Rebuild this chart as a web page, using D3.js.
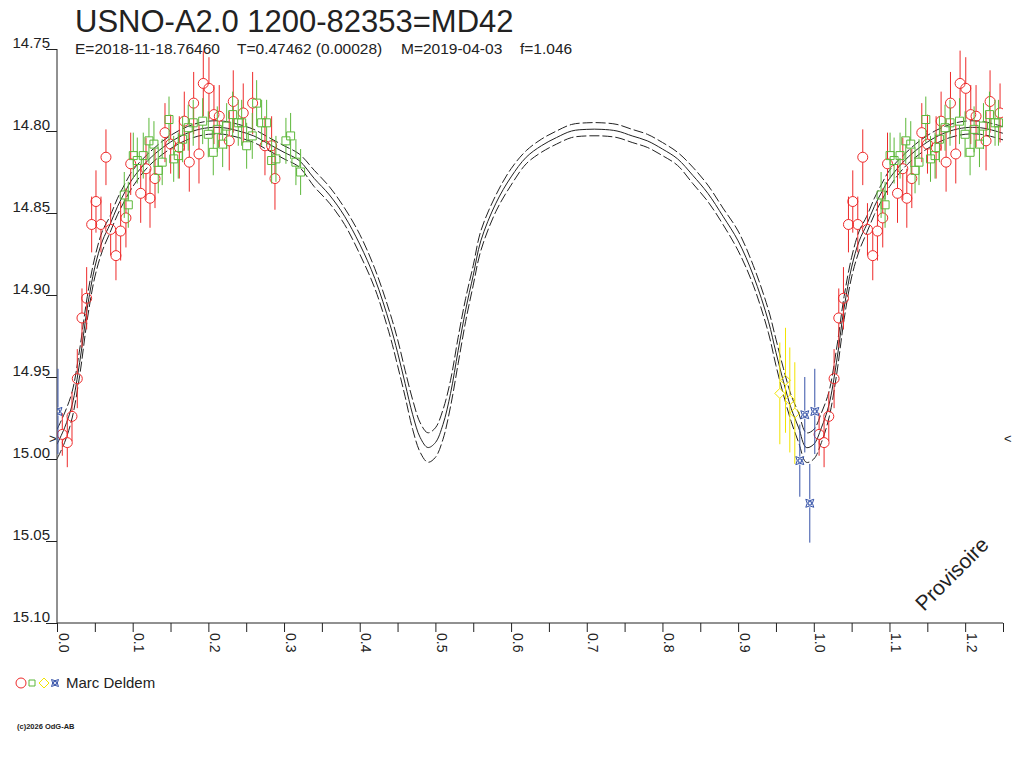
<!DOCTYPE html>
<html>
<head>
<meta charset="utf-8">
<script src="https://cdn.jsdelivr.net/npm/d3@7"></script>
<style>
  body { margin: 0; background: #fff; }
  text { font-family: "Liberation Sans", Arial, sans-serif; fill: #222; }
</style>
</head>
<body>
<div id="chart"></div>
<script>
const [width, height] = [1024, 768];

// model light curve, phase 0..1 (middle, bright envelope, faint envelope)
const curvePhase = [0.00,0.01,0.02,0.03,0.04,0.05,0.06,0.07,0.08,0.09,0.10,
  0.12,0.14,0.16,0.18,0.20,0.22,0.24,0.26,0.28,0.30,0.32,0.34,0.36,0.38,0.40,0.42,0.44,
  0.45,0.46,0.47,0.48,0.49,0.50,0.51,0.52,0.53,0.54,0.55,0.56,
  0.58,0.60,0.62,0.64,0.66,0.68,0.70,0.72,0.74,0.76,0.78,0.80,0.82,0.84,0.86,0.88,0.90,0.92,0.94,
  0.95,0.96,0.97,0.98,0.99];
const curveMid = [14.991,14.981,14.967,14.941,14.908,14.883,14.867,14.857,14.846,14.837,14.829,
  14.818,14.810,14.804,14.800,14.798,14.798,14.800,14.803,14.808,14.813,14.818,14.829,14.839,14.852,14.869,14.890,14.918,
  14.935,14.954,14.973,14.987,14.993,14.990,14.979,14.960,14.934,14.909,14.888,14.867,
  14.844,14.828,14.816,14.809,14.804,14.800,14.799,14.799,14.800,14.803,14.806,14.811,14.817,14.827,14.838,14.852,14.867,14.888,14.916,
  14.935,14.953,14.969,14.981,14.993];
const curveUp = [14.982,14.972,14.959,14.933,14.901,14.877,14.861,14.852,14.841,14.832,14.824,
  14.814,14.806,14.800,14.796,14.794,14.794,14.796,14.799,14.804,14.809,14.814,14.824,14.834,14.847,14.863,14.884,14.911,
  14.927,14.946,14.964,14.978,14.984,14.981,14.970,14.952,14.926,14.902,14.882,14.861,
  14.839,14.823,14.812,14.805,14.800,14.796,14.795,14.795,14.796,14.799,14.802,14.807,14.813,14.822,14.833,14.847,14.861,14.882,14.909,
  14.927,14.945,14.961,14.972,14.984];
const curveLow = [15.000,14.990,14.975,14.949,14.915,14.889,14.873,14.862,14.851,14.842,14.834,
  14.822,14.814,14.808,14.804,14.802,14.802,14.804,14.807,14.812,14.817,14.822,14.834,14.844,14.857,14.875,14.896,14.925,
  14.943,14.962,14.982,14.996,15.002,14.999,14.988,14.968,14.942,14.916,14.894,14.873,
  14.849,14.833,14.820,14.813,14.808,14.804,14.803,14.803,14.804,14.807,14.810,14.815,14.821,14.832,14.843,14.857,14.873,14.894,14.923,
  14.943,14.961,14.977,14.990,15.002];

// observations (phase, magnitude, error)
const redPhase = [0.0070,0.0136,0.0198,0.0268,0.0330,0.0392,0.0458,0.0581,0.0515,0.0647,0.0709,0.0779,0.0841,
  0.0911,0.0974,0.1106,0.1229,0.1176,0.1295,0.1427,0.1502,0.1616,0.1682,0.1748,0.1806,0.1876,0.1933,0.2008,
  0.2074,0.2144,0.2276,0.2329,0.2461,0.2585,0.2748,0.2836,0.2880];
const redMag = [14.985,14.990,14.974,14.951,14.914,14.902,14.857,14.857,14.843,14.816,14.860,14.876,14.861,
  14.853,14.820,14.838,14.841,14.823,14.829,14.801,14.808,14.810,14.794,14.819,14.783,14.814,14.771,14.774,
  14.790,14.791,14.806,14.782,14.789,14.783,14.809,14.809,14.829];
const redErr = [0.013,0.015,0.015,0.018,0.018,0.019,0.017,0.017,0.019,0.017,0.016,0.015,0.018,
  0.018,0.019,0.018,0.018,0.019,0.018,0.018,0.018,0.019,0.018,0.018,0.019,0.018,0.020,0.019,
  0.018,0.019,0.018,0.019,0.018,0.019,0.018,0.018,0.019];

const greenPhase = [0.0889,0.0942,0.1008,0.1061,0.1140,0.1215,0.1281,0.1338,0.1390,0.1480,0.1542,0.1602,
  0.1660,0.1734,0.1800,0.1925,0.1999,0.2065,0.2118,0.2189,0.2242,0.2321,0.2395,0.2440,0.2506,0.2580,
  0.2638,0.2704,0.2770,0.2836,0.2893,0.3025,0.3087,0.3157,0.3219];
const greenMag = [14.839,14.845,14.815,14.818,14.815,14.806,14.808,14.824,14.819,14.793,14.817,14.815,
  14.805,14.798,14.795,14.794,14.802,14.813,14.799,14.808,14.797,14.790,14.795,14.795,14.809,14.803,
  14.783,14.795,14.795,14.818,14.817,14.806,14.803,14.819,14.825];
const greenErr = [0.014,0.014,0.014,0.014,0.014,0.014,0.014,0.014,0.014,0.014,0.014,0.014,
  0.014,0.014,0.014,0.014,0.014,0.014,0.014,0.014,0.014,0.014,0.014,0.014,0.014,0.014,
  0.014,0.014,0.014,0.014,0.014,0.014,0.014,0.014,0.014];

const yellowPhase = [0.9551,0.9626,0.9683,0.9749];
const yellowMag = [14.960,14.952,14.964,14.972];
const yellowErr = [0.031,0.032,0.032,0.031];

const bluePhase = [0.9815,0.9881,0.9947,0.0013];
const blueMag = [15.001,14.973,15.027,14.971];
const blueErr = [0.022,0.023,0.024,0.026];

const yTicks = [14.75,14.80,14.85,14.90,14.95,15.00,15.05,15.10];
const xTicks = [0.0,0.1,0.2,0.3,0.4,0.5,0.6,0.7,0.8,0.9,1.0,1.1,1.2];
const xMinorTicks = [0.05,0.15,0.25,0.35,0.45,0.55,0.65,0.75,0.85,0.95,1.05,1.15,1.25];
const minLevel = 14.988;

const title = "USNO-A2.0 1200-82353=MD42";
const subtitle = ["E=2018-11-18.76460", "T=0.47462 (0.00028)", "M=2019-04-03", "f=1.046"];
const observer = "Marc Deldem";

const margin = {top: 49, right: 21, bottom: 145, left: 57};

const svg = d3.select("#chart")
  .append("svg")
  .attr("width", width)
  .attr("height", height);

const x = d3.scaleLinear().domain([0, 1.25]).range([margin.left, width - margin.right]);
const y = d3.scaleLinear().domain([14.75, 15.10]).range([margin.top, height - margin.bottom]);

// title block
svg.append("text").attr("x", 75).attr("y", 32)
  .style("font-size", "31px").text(title);
const subX = [75, 237, 401, 520];
subtitle.forEach((s, i) => {
  svg.append("text").attr("x", subX[i]).attr("y", 54)
    .style("font-size", "15.5px").text(s);
});

// axes
const yAxis = d3.axisLeft(y).tickValues(yTicks).tickSize(11).tickFormat(d3.format(".2f"));
const gy = svg.append("g").attr("transform", `translate(${x(0)},0)`).call(yAxis);
gy.select(".domain").attr("d", `M0,${y(14.75)}V${y(15.10)}`).attr("stroke", "#222");
gy.selectAll(".tick line").attr("stroke", "#222");
gy.selectAll(".tick text")
  .attr("x", -7).attr("dy", "-2px")
  .style("font-size", "15px").style("font-family", "'Liberation Sans', Arial, sans-serif")
  .attr("fill", "#222");

const xAxis = d3.axisBottom(x).tickValues(xTicks.concat(xMinorTicks)).tickSize(9)
  .tickFormat(d => xTicks.includes(d) ? d3.format(".1f")(d) : "");
const gx = svg.append("g").attr("transform", `translate(0,${y(15.10)})`).call(xAxis);
gx.select(".domain").attr("d", `M${x(0)},0H${x(1.25)}`).attr("stroke", "#222");
gx.selectAll(".tick line").attr("stroke", "#222");
gx.selectAll(".tick text")
  .attr("transform", "rotate(90)")
  .attr("x", 10).attr("y", -1).attr("dy", 0)
  .attr("text-anchor", "start")
  .style("font-size", "14px").style("font-family", "'Liberation Sans', Arial, sans-serif")
  .attr("fill", "#222");

// plot area clip
svg.append("clipPath").attr("id", "plot")
  .append("rect").attr("x", x(0)).attr("y", 0)
  .attr("width", x(1.25) - x(0)).attr("height", y(15.10));
const plot = svg.append("g").attr("clip-path", "url(#plot)");

// curves, wrapped past phase 1
function wrapped(mags) {
  const pts = curvePhase.map((p, i) => [p, mags[i]]);
  curvePhase.forEach((p, i) => { if (p <= 0.26) pts.push([p + 1, mags[i]]); });
  return pts;
}
const line = d3.line().x(d => x(d[0])).y(d => y(d[1])).curve(d3.curveCatmullRom);
[[curveUp, "10,3"], [curveMid, null], [curveLow, "10,3"]].forEach(([mags, dash]) => {
  plot.append("path")
    .attr("d", line(wrapped(mags)))
    .attr("fill", "none")
    .attr("stroke", "#222")
    .attr("stroke-width", 1)
    .attr("stroke-dasharray", dash);
});

// marker shapes
const shapes = {
  square: s => `M${-s},${-s}H${s}V${s}H${-s}Z`,
  diamond: s => `M0,${-s}L${s},0L0,${s}L${-s},0Z`,
  star: s => `M${-s},${-s}Q0,${-s * 0.3} ${s},${-s}Q${s * 0.3},0 ${s},${s}Q0,${s * 0.3} ${-s},${s}Q${-s * 0.3},0 ${-s},${-s}Z` +
             `M${-s * 0.4},${-s * 0.4}H${s * 0.4}V${s * 0.4}H${-s * 0.4}Z`
};

const series = [
  {phase: redPhase, mag: redMag, err: redErr, color: "#ee2a2a", shape: "circle", size: 5},
  {phase: greenPhase, mag: greenMag, err: greenErr, color: "#5cb83a", shape: "square", size: 4},
  {phase: yellowPhase, mag: yellowMag, err: yellowErr, color: "#f2e400", shape: "diamond", size: 5},
  {phase: bluePhase, mag: blueMag, err: blueErr, color: "#3552a8", shape: "star", size: 4}
];

series.forEach(s => {
  const pts = [];
  s.phase.forEach((p, i) => {
    pts.push({p: p, m: s.mag[i], e: s.err[i]});
    if (p + 1 <= 1.25) pts.push({p: p + 1, m: s.mag[i], e: s.err[i]});
  });
  const g = plot.append("g");
  pts.forEach(d => {
    const cx = x(d.p), cy = y(d.m);
    g.append("line").attr("x1", cx).attr("x2", cx)
      .attr("y1", y(d.m - d.e)).attr("y2", cy - s.size)
      .attr("stroke", s.color);
    g.append("line").attr("x1", cx).attr("x2", cx)
      .attr("y1", cy + s.size).attr("y2", y(d.m + d.e))
      .attr("stroke", s.color);
    if (s.shape === "circle") {
      g.append("circle").attr("cx", cx).attr("cy", cy).attr("r", s.size)
        .attr("fill", "none").attr("stroke", s.color);
    } else {
      g.append("path").attr("d", shapes[s.shape](s.size))
        .attr("transform", `translate(${cx},${cy})`)
        .attr("fill", "none").attr("stroke", s.color);
    }
  });
});

// minimum level marks
svg.append("text").attr("x", x(0) - 8).attr("y", y(minLevel) + 4)
  .style("font-size", "13px").text(">");
svg.append("text").attr("x", x(1.25) + 1).attr("y", y(minLevel) + 4)
  .style("font-size", "13px").text("<");

// watermark
svg.append("text")
  .attr("transform", "translate(924,612) rotate(-45)")
  .style("font-size", "21px").text("Provisoire");

// legend
const lg = svg.append("g").attr("transform", "translate(0,683)");
lg.append("circle").attr("cx", 21).attr("cy", 0).attr("r", 5)
  .attr("fill", "none").attr("stroke", series[0].color);
lg.append("path").attr("d", shapes.square(3)).attr("transform", "translate(32,0)")
  .attr("fill", "none").attr("stroke", series[1].color);
lg.append("path").attr("d", shapes.diamond(5)).attr("transform", "translate(44,0)")
  .attr("fill", "none").attr("stroke", series[2].color);
lg.append("path").attr("d", shapes.star(3.5)).attr("transform", "translate(55,0)")
  .attr("fill", "none").attr("stroke", series[3].color);
lg.append("text").attr("x", 66).attr("y", 5).style("font-size", "15px").text(observer);

svg.append("text").attr("x", 17).attr("y", 729)
  .style("font-size", "7.5px").style("font-weight", "bold").text("(c)2026 OdG-AB");
</script>
</body>
</html>
